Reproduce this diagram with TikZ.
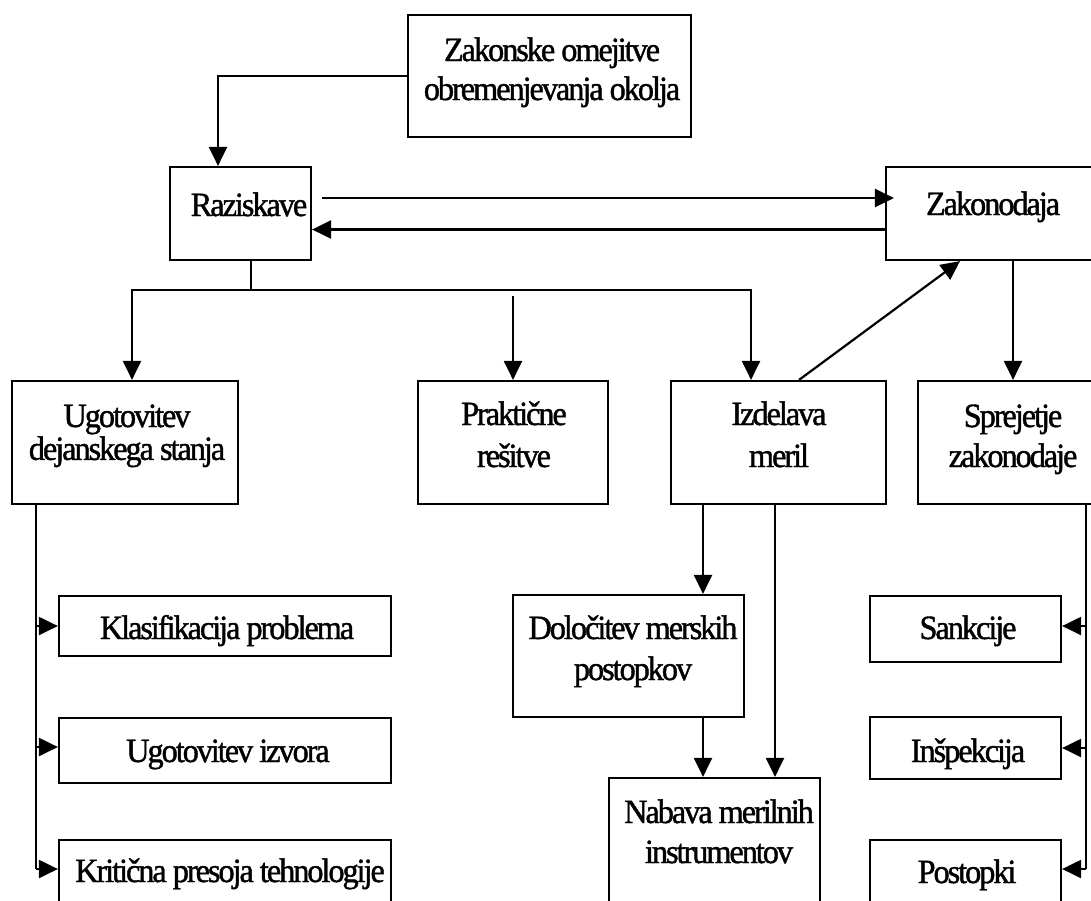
\documentclass[tikz,border=0pt]{standalone}
\usepackage{fontspec}
\setmainfont{Liberation Serif}[FakeStretch=0.95, LetterSpace=-6, FakeBold=1.2]
\usetikzlibrary{arrows.meta}

% two centred lines with a chosen distance between the baselines
\newcommand\twolines[3]{{\fontsize{34}{#1}\selectfont\begin{tabular}[t]{@{}c@{}}#2\\#3\end{tabular}}}

\begin{document}
\begin{tikzpicture}[x=1pt, y=-1pt,
  box/.style={draw, line width=2.2pt, inner sep=0pt},
  txt/.style={inner sep=0pt, anchor=base, font=\fontsize{34}{41}\selectfont},
  conn/.style={line width=2.2pt},
  arr/.style={conn, -{Triangle[length=19pt,width=18pt]}},
  thick arr/.style={arr, line width=2.8pt}]

\useasboundingbox (0,0) rectangle (1091,900);
\clip (0,0) rectangle (1091,900);

% ---- boxes ----
\node[box, minimum width=283pt, minimum height=122pt] (zak) at (549.5,76) {};
\node[box, minimum width=141pt, minimum height=93pt]  (raz) at (240.5,213.5) {};
\node[box, minimum width=214pt, minimum height=93pt]  (zkd) at (993,213.5) {};
\node[box, minimum width=226pt, minimum height=123pt] (ugo) at (125,442.5) {};
\node[box, minimum width=190pt, minimum height=123pt] (pra) at (513,442.5) {};
\node[box, minimum width=215pt, minimum height=123pt] (izd) at (778.5,442.5) {};
\node[box, minimum width=190pt, minimum height=123pt] (spr) at (1013,442.5) {};
\node[box, minimum width=332pt, minimum height=60pt]  (kla) at (225,626) {};
\node[box, minimum width=332pt, minimum height=65pt]  (izv) at (225,750.5) {};
\node[box, minimum width=332pt, minimum height=70pt]  (kri) at (225,875) {};
\node[box, minimum width=191pt, minimum height=66pt]  (san) at (965.5,629) {};
\node[box, minimum width=191pt, minimum height=62pt]  (ins) at (965.5,748) {};
\node[box, minimum width=191pt, minimum height=70pt]  (pos) at (965.5,875) {};
\node[box, minimum width=231pt, minimum height=122pt] (dol) at (628.5,656) {};
\node[box, minimum width=211pt, minimum height=130pt] (nab) at (714.5,843) {};

% ---- texts ----
\node[txt] (zak-t) at (552,61)  {\twolines{39}{Zakonske omejitve}{obremenjevanja okolja}};
\node[txt] (raz-t) at (249,216) {Raziskave};
\node[txt] (zkd-t) at (993,215) {Zakonodaja};
\node[txt] (ugo-t) at (127,427) {\twolines{31}{Ugotovitev}{dejanskega stanja}};
\node[txt] (pra-t) at (514,425) {\twolines{42}{Praktične}{rešitve}};
\node[txt] (izd-t) at (779,425) {\twolines{42}{Izdelava}{meril}};
\node[txt] (spr-t) at (1013,427) {\twolines{40}{Sprejetje}{zakonodaje}};
\node[txt] (kla-t) at (227,639) {Klasifikacija problema};
\node[txt] (izv-t) at (228,762) {Ugotovitev izvora};
\node[txt] (kri-t) at (230,882) {Kritična presoja tehnologije};
\node[txt] (san-t) at (968,639) {Sankcije};
\node[txt] (ins-t) at (968,762) {Inšpekcija};
\node[txt] (pos-t) at (967,883) {Postopki};
\node[txt] (dol-t) at (633,639) {\twolines{41}{Določitev merskih}{postopkov}};
\node[txt] (nab-t) at (719,823) {\twolines{40}{Nabava merilnih}{instrumentov}};

% ---- connectors ----
% legal limits feed the research
\draw[arr] (zak.west) -| ([xshift=-22.5pt]raz.north);

% research <-> legislation
\draw[thick arr] ([xshift=10pt,yshift=15.5pt]raz.east) -- ([xshift=9pt,yshift=15.5pt]zkd.west);
\draw[thick arr] ([yshift=-16pt]zkd.west) -- ([yshift=-16pt]raz.east);

% research branches out
\coordinate (bus) at (251,290);
\draw[conn] ([xshift=10.5pt]raz.south) -- (bus);
\draw[arr] (bus) -| ([xshift=7pt]ugo.north);
\draw[arr] (bus) -| ([xshift=-27.5pt]izd.north);
\coordinate (pratop) at (513,296);
\draw[arr] (pratop) -- (pra.north);

% measures back to legislation, legislation to its adoption
\draw[arr] ([xshift=20.5pt]izd.north) -- ([xshift=-33pt]zkd.south);
\draw[arr] ([xshift=20pt]zkd.south) -- (spr.north);

% left column
\coordinate (lt) at ([xshift=-89pt]ugo.south);
\draw[conn] (lt) -- (lt |- 0,869);
\draw[arr] (lt |- kla.west) -- (kla.west);
\draw[arr] (lt |- 0,747) -- (izv.west |- 0,747);
\draw[arr] (lt |- 0,869) -- (kri.west |- 0,869);

% right column
\coordinate (rt) at ([xshift=73pt]spr.south);
\draw[conn] (rt) -- (rt |- 0,869);
\draw[arr] (rt |- 0,626) -- (san.east |- 0,626);
\draw[arr] (rt |- ins.east) -- (ins.east);
\draw[arr] (rt |- 0,869) -- (pos.east |- 0,869);

% measuring instruments
\coordinate (ma) at ([xshift=-75.5pt]izd.south);
\coordinate (mb) at ([xshift=-3.5pt]izd.south);
\draw[arr] (ma) -- (ma |- dol.north);
\draw[arr] (ma |- dol.south) -- (ma |- nab.north);
\draw[arr] (mb) -- (mb |- nab.north);
\end{tikzpicture}
\end{document}
